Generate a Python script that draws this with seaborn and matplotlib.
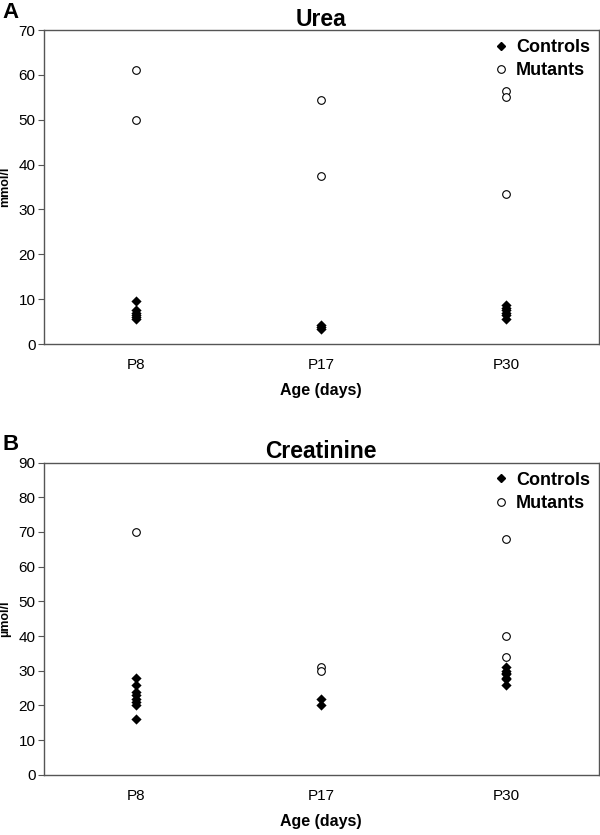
import matplotlib
matplotlib.use("Agg")
import matplotlib.pyplot as plt
import seaborn as sns
import pandas as pd
from matplotlib.lines import Line2D

sns.set_style("white")
plt.rcParams['font.family'] = ['Liberation Sans', 'DejaVu Sans']
plt.rcParams['text.color'] = 'black'
plt.rcParams['axes.labelcolor'] = 'black'
plt.rcParams['xtick.labelcolor'] = 'black'
plt.rcParams['ytick.labelcolor'] = 'black'

ages = ["P8", "P17", "P30"]

# Urea (mmol/l)
urea_ctrl_age = ["P8"] * 6 + ["P17"] * 3 + ["P30"] * 6
urea_ctrl_val = [9.7, 7.5, 7.0, 6.5, 6.0, 5.5, 4.3, 3.8, 3.4, 8.8, 8.0, 7.5, 7.0, 6.5, 5.5]
urea_mut_age = ["P8", "P8", "P17", "P17", "P30", "P30", "P30"]
urea_mut_val = [61.0, 50.0, 54.5, 37.5, 56.5, 55.0, 33.5]

# Creatinine (µmol/l)
crea_ctrl_age = ["P8"] * 8 + ["P17"] * 2 + ["P30"] * 7
crea_ctrl_val = [28, 26, 24, 23, 22, 21, 20, 16, 22, 20, 31, 30, 29.5, 29, 28, 27.5, 26]
crea_mut_age = ["P8", "P17", "P17", "P30", "P30", "P30"]
crea_mut_val = [70, 31, 30, 68, 40, 34]

fig = plt.figure(figsize=(6.0, 8.35), dpi=100)
axA = fig.add_axes([0.073, 0.588, 0.925, 0.376])
axB = fig.add_axes([0.073, 0.072, 0.925, 0.374])

panels = [
    (axA, urea_ctrl_age, urea_ctrl_val, urea_mut_age, urea_mut_val, "Urea", "mmol/l", 70, 10, "A"),
    (axB, crea_ctrl_age, crea_ctrl_val, crea_mut_age, crea_mut_val, "Creatinine", "µmol/l", 90, 10, "B"),
]

for ax, ca, cv, ma, mv, title, ylab, ymax, step, letter in panels:
    dc = pd.DataFrame({"age": ca, "val": cv})
    dm = pd.DataFrame({"age": ma, "val": mv})
    sns.stripplot(data=dc, x="age", y="val", order=ages, jitter=False, marker="D",
                  color="black", size=5.2, linewidth=0, ax=ax, zorder=3)
    sns.stripplot(data=dm, x="age", y="val", order=ages, jitter=False, marker="o",
                  color="white", edgecolor="black", linewidth=0.8, size=5.5, ax=ax, zorder=3)
    ax.set_xlim(-0.5, 2.5)
    ax.set_ylim(0, ymax)
    ax.set_yticks(range(0, ymax + 1, step))
    ax.tick_params(axis="y", which="major", direction="out", length=4, width=0.8,
                   labelsize=11, left=True, pad=2, color="#555555", labelcolor="black")
    ax.set_xticks([0, 1, 2])
    ax.set_xticklabels(ages, fontsize=11)
    ax.tick_params(axis="x", which="major", length=0, pad=10, labelcolor="black")
    ax.set_xticks([0.5, 1.5, 2.5], minor=True)
    ax.tick_params(axis="x", which="minor", direction="out", length=4, width=0.8, color="#555555")
    for s in ax.spines.values():
        s.set_visible(True)
        s.set_color("#555555")
        s.set_linewidth(1.0)
    ax.set_xlabel("Age (days)", fontsize=11.5, fontweight="bold", labelpad=8, color="black")
    ax.set_ylabel(ylab, fontsize=9, fontweight="bold", color="black")
    ax.yaxis.set_label_coords(-0.058, 0.5)
    ax.set_title(title, fontsize=16.5, fontweight="bold", pad=3, color="black")
    handles = [
        Line2D([], [], marker="D", color="black", linestyle="none", markersize=4.5),
        Line2D([], [], marker="o", markerfacecolor="white", markeredgecolor="black",
               linestyle="none", markersize=5.5, markeredgewidth=0.8),
    ]
    leg = ax.legend(handles, ["Controls", "Mutants"], loc="upper right", frameon=False,
                    prop={"weight": "bold", "size": 13}, handletextpad=0.3,
                    handlelength=1.0, borderaxespad=0.1, labelspacing=0.35)
    for t in leg.get_texts():
        t.set_color("black")
    pos = ax.get_position()
    fig.text(0.004, pos.y1 + 0.009, letter, fontsize=16, fontweight="bold", va="bottom",
             ha="left", color="black")

fig.savefig("out.png", dpi=100)
